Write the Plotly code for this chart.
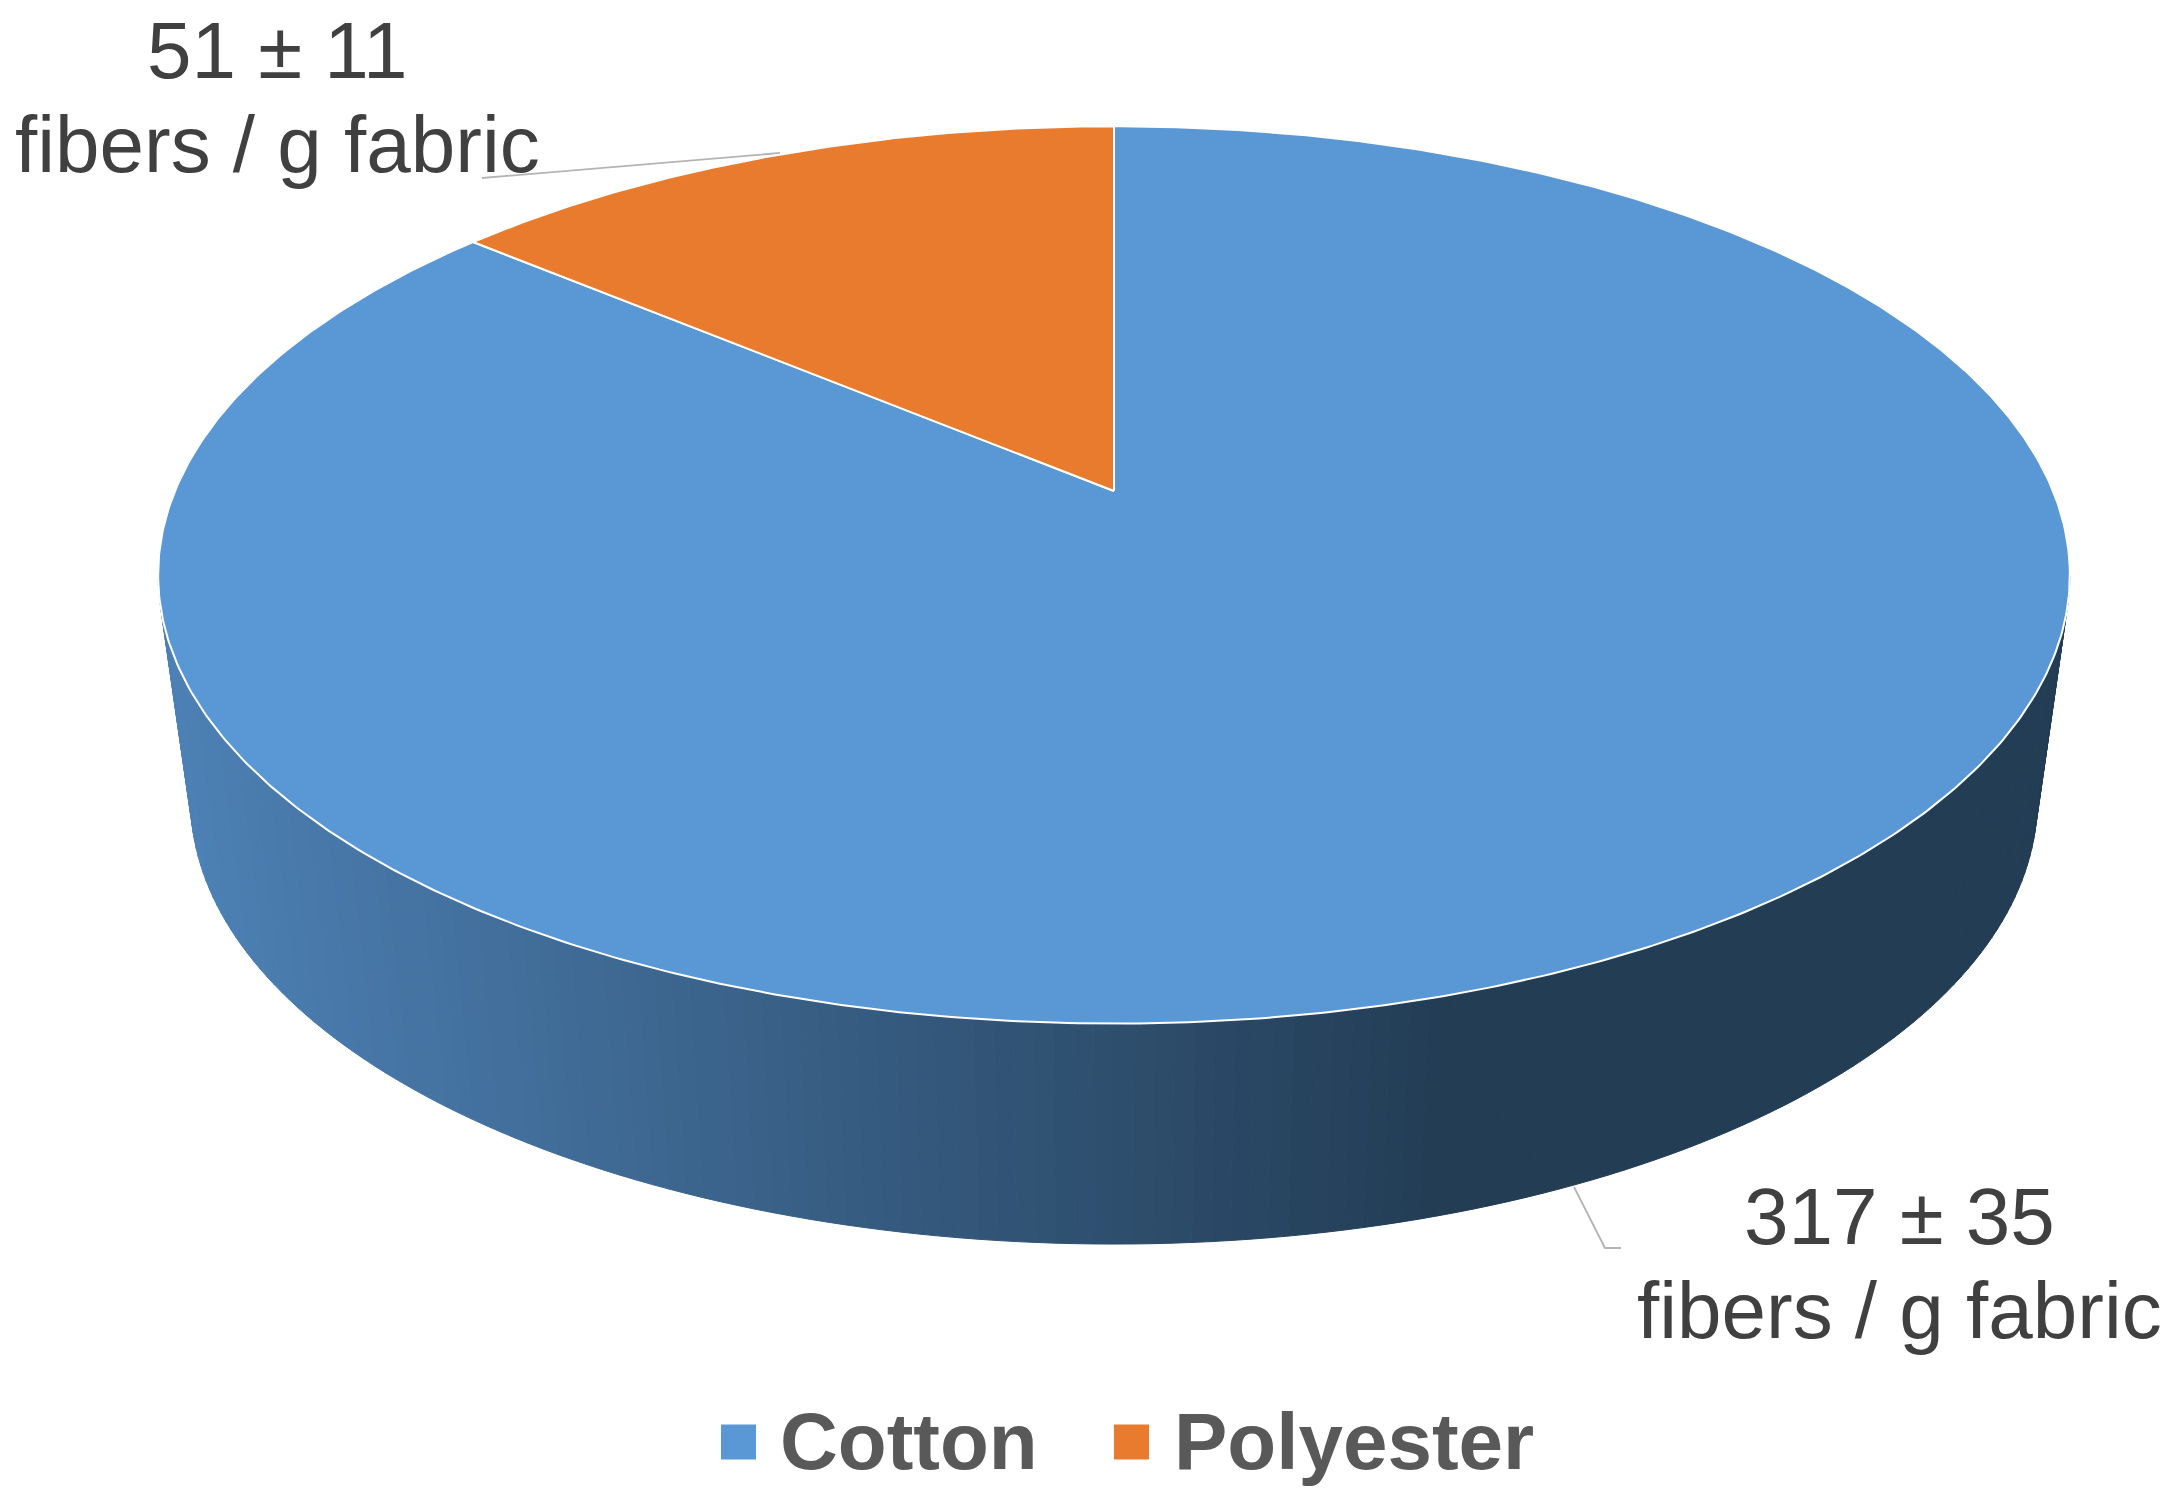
import numpy as np
import plotly.graph_objects as go

# Data
categories = ["Cotton", "Polyester"]
fibers = [317, 51]
errors = [35, 11]
slice_colors = ["#5A98D5", "#E97B2F"]
unit = "fibers / g fabric"

# Chart geometry: a perspective view of a circular disc (axes are in picture pixels)
W, H = 2175, 1500
CX = 1114
PERSP = 0.187
TOP_RIM = dict(y0=491, a=939, b=433)
BOT_RIM = dict(y0=717, a=907, b=428.5)
SIDE_LEFT, SIDE_RIGHT = (0x4E, 0x82, 0xB7), (0x23, 0x3D, 0x55)
SIDE_X0, SIDE_X1 = 163, 1430


def rim(theta_deg, g):
    th = np.radians(theta_deg)
    u, v = np.sin(th), np.cos(th)
    w = 1 + PERSP * v
    return CX + g["a"] * u / w, g["y0"] - g["b"] * v / w


def side_color(x):
    t = min(max((x - SIDE_X0) / (SIDE_X1 - SIDE_X0), 0), 1)
    c = [round(l + (r - l) * t) for l, r in zip(SIDE_LEFT, SIDE_RIGHT)]
    return f"rgb({c[0]},{c[1]},{c[2]})"


fig = go.Figure()

# Side wall of the disc, shaded left to right
edges = np.linspace(101, 259, 159)
for a0, a1 in zip(edges[:-1], edges[1:]):
    xt0, yt0 = rim(a0, TOP_RIM)
    xt1, yt1 = rim(a1, TOP_RIM)
    xb0, yb0 = rim(a0, BOT_RIM)
    xb1, yb1 = rim(a1, BOT_RIM)
    col = side_color((xb0 + xb1) / 2)
    fig.add_trace(go.Scatter(
        x=[xt0, xt1, xb1, xb0, xt0], y=[yt0, yt1, yb1, yb0, yt0],
        mode="lines", fill="toself", fillcolor=col,
        line=dict(color=col, width=1), hoverinfo="skip"))

# Leader lines (drawn under the pie)
lead_x = [[482, 780], [1574, 1605, 1621]]
lead_y = [[178, 153], [1187, 1248, 1248]]
for lx, ly in zip(lead_x, lead_y):
    fig.add_trace(go.Scatter(x=lx, y=ly, mode="lines",
                             line=dict(color="#B4B4B4", width=1.8), hoverinfo="skip"))

# Top face, one slice per value, clockwise from 12 o'clock
total = sum(fibers)
start = 0.0
for name, val, col in zip(categories, fibers, slice_colors):
    end = start + 360 * val / total
    th = np.linspace(start, end, int(end - start) * 2 + 2)
    xs, ys = rim(th, TOP_RIM)
    ax, ay = CX, TOP_RIM["y0"]
    fig.add_trace(go.Scatter(
        x=[ax, *xs, ax], y=[ay, *ys, ay], mode="lines", fill="toself",
        fillcolor=col, line=dict(color="white", width=2), name=name, hoverinfo="skip"))
    start = end

# Legend swatches
legend_x = [738.5, 1131.5]
legend_text_x = [778, 1172]
legend_y = 1442
fig.add_trace(go.Scatter(
    x=legend_x, y=[legend_y] * 2, mode="markers",
    marker=dict(symbol="square", size=35, color=slice_colors, line=dict(width=0)),
    hoverinfo="skip"))

annotations = []
for name, tx in zip(categories, legend_text_x):
    annotations.append(dict(x=tx, y=1441, xref="x", yref="y", text=f"<b>{name}</b>", showarrow=False,
                            xanchor="left", yanchor="middle",
                            font=dict(family="Liberation Sans", size=80, color="#595959")))

label_x = [1899, 277]
label_y1 = [1216, 50]
label_y2 = [1310, 144]
for val, err, lx, y1, y2 in zip(fibers, errors, label_x, label_y1, label_y2):
    for txt, yy in ((f"{val} ± {err}", y1), (unit, y2)):
        annotations.append(dict(x=lx, y=yy, xref="x", yref="y", text=txt, showarrow=False,
                                xanchor="center", yanchor="middle",
                                font=dict(family="Liberation Sans", size=80, color="#404040")))

fig.update_layout(
    width=W, height=H, autosize=False,
    margin=dict(l=0, r=0, t=0, b=0),
    paper_bgcolor="white", plot_bgcolor="white",
    showlegend=False,
    xaxis=dict(range=[0, W], visible=False, fixedrange=True),
    yaxis=dict(range=[H, 0], visible=False, fixedrange=True),
    annotations=annotations,
)
fig.write_html("out.html", config={"displayModeBar": False},
               post_script="document.body.style.margin='0';document.body.style.overflow='hidden';")
